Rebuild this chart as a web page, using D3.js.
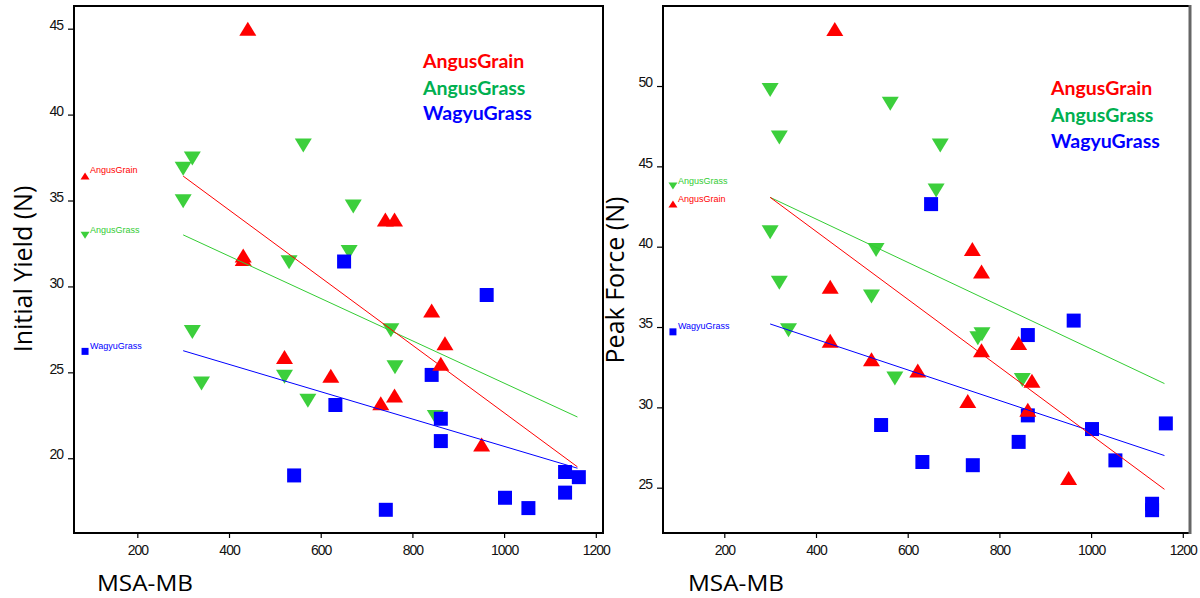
<!DOCTYPE html>
<html>
<head>
<meta charset="utf-8">
<script src="https://cdn.jsdelivr.net/npm/d3@7"></script>
<style>
    body { margin: 0; background: #fff; }
    svg { display: block; }
</style>
</head>
<body>
<div id="chart"></div>
<script>
// Tick labels
const msaTicks = [200, 400, 600, 800, 1000, 1200];
const yieldTicks = [20, 25, 30, 35, 40, 45];
const forceTicks = [25, 30, 35, 40, 45, 50];

const groups = ["AngusGrain", "AngusGrass", "WagyuGrass"];

// AngusGrain
const grainMSA = [441, 431, 431, 521, 622, 731, 741, 761, 761, 842, 871, 862, 951];
const grainYield = [45.0, 31.8, 31.6, 25.9, 24.8, 23.2, 33.9, 33.9, 23.65, 28.6, 26.7, 25.5, 20.8];
const grainForce = [53.55, 37.5, 34.15, 33.0, 32.3, 30.4, 39.85, 38.45, 33.55, 34.0, 31.65, 29.85, 25.6];

// AngusGrass
const grassMSA = [300, 300, 320, 320, 340, 531, 521, 572, 562, 671, 662, 753, 762, 850];
const grassYield = [36.85, 34.95, 37.45, 27.35, 24.35, 31.4, 24.75, 23.35, 38.2, 34.65, 32.0, 27.45, 25.3, 22.4];
const grassForce = [49.75, 40.9, 46.8, 37.75, 34.8, 39.8, 36.9, 31.8, 48.9, 46.3, 43.5, 34.3, 34.55, 31.7];

// WagyuGrass
const wagyuMSA = [651, 962, 542, 632, 742, 842, 862, 862, 1002, 1053, 1133, 1133, 1163];
const wagyuYield = [31.45, 29.5, 19.0, 23.1, 17.0, 24.85, 22.3, 21.0, 17.7, 17.1, 19.2, 18.0, 18.9];
const wagyuForce = [42.65, 35.4, 28.9, 26.6, 26.4, 27.85, 34.5, 29.5, 28.65, 26.7, 24.0, 23.6, 29.0];

// fitted lines, start and end
const fitMSA = [300, 1160];
const grainYieldFit = [36.42, 19.5];
const grassYieldFit = [33.0, 22.4];
const wagyuYieldFit = [26.26, 19.42];
const grainForceFit = [43.07, 24.9];
const grassForceFit = [43.07, 31.48];
const wagyuForceFit = [35.19, 27.0];

// little key inside the plot (grain, grass, wagyu)
const yieldKeyMSA = 86;
const yieldKeyY = [36.43, 32.98, 26.22];
const forceKeyMSA = 88;
const forceKeyY = [42.65, 43.77, 34.7];

const markColor = { AngusGrain: "#ff0000", AngusGrass: "#3ccf3c", WagyuGrass: "#0000ff" };
const keyColor = { AngusGrain: "#ff0000", AngusGrass: "#00b050", WagyuGrass: "#0000ff" };

const svg = d3.select("#chart")
    .append("svg")
    .attr("width", 1200)
    .attr("height", 598);

function markPath(group, w, h) {
    if (group === "AngusGrain") return `M0,${-h / 2}L${w / 2},${h / 2}L${-w / 2},${h / 2}Z`;
    if (group === "AngusGrass") return `M${-w / 2},${-h / 2}L${w / 2},${-h / 2}L0,${h / 2}Z`;
    return `M${-w / 2},${-w / 2}h${w}v${w}h${-w}Z`;
}

function drawPanel(p) {
    const x = d3.scaleLinear().domain(p.xDomain).range([p.left, p.right]);
    const y = d3.scaleLinear().domain(p.yDomain).range([p.bottom, p.top]);

    const g = svg.append("g");

    // axes
    const xAxis = g.append("g")
        .attr("transform", `translate(0,${p.bottom})`)
        .call(d3.axisBottom(x).tickValues(msaTicks).tickFormat(d3.format("d"))
            .tickSize(5).tickPadding(7).tickSizeOuter(0));
    const yAxis = g.append("g")
        .attr("transform", `translate(${p.left},0)`)
        .call(d3.axisLeft(y).tickValues(p.yTicks).tickSize(6).tickPadding(5).tickSizeOuter(0));
    yAxis.selectAll("text").attr("dy", "0.05em");
    [xAxis, yAxis].forEach(a => {
        a.select(".domain").remove();
        a.selectAll("line").attr("stroke", "#000").attr("stroke-width", 1.2);
        a.selectAll("text")
            .style("font-family", "'Liberation Sans', Arial, sans-serif")
            .style("font-size", "14px")
            .style("letter-spacing", "-1px")
            .attr("fill", "#111");
    });

    // markers
    p.series.forEach(s => {
        g.selectAll(null)
            .data(s.xs.map((v, i) => ({ x: v, y: s.ys[i] })))
            .enter().append("path")
            .attr("d", markPath(s.name, s.name === "WagyuGrass" ? 14 : 17, 14))
            .attr("transform", d => `translate(${x(d.x)},${y(d.y)})`)
            .attr("fill", markColor[s.name]);
    });

    // fit lines on top
    p.series.forEach(s => {
        g.append("path")
            .datum(fitMSA.map((v, i) => [v, s.fit[i]]))
            .attr("d", d3.line().x(d => x(d[0])).y(d => y(d[1])))
            .attr("fill", "none")
            .attr("stroke", markColor[s.name] === "#3ccf3c" ? "#33cc33" : markColor[s.name])
            .attr("stroke-width", 1);
    });

    // small key
    groups.forEach((name, i) => {
        const kx = x(p.keyMSA), ky = y(p.keyY[i]);
        g.append("path")
            .attr("d", markPath(name, name === "WagyuGrass" ? 7 : 9, 7))
            .attr("transform", `translate(${kx},${ky})`)
            .attr("fill", markColor[name]);
        g.append("text")
            .attr("x", kx + 5)
            .attr("y", ky - 2.5)
            .text(name)
            .style("font-family", "'Liberation Sans', Arial, sans-serif")
            .style("font-size", "9px")
            .attr("fill", name === "AngusGrass" ? "#33cc33" : markColor[name]);
    });

    // big key
    groups.forEach((name, i) => {
        g.append("text")
            .attr("x", p.keyX)
            .attr("y", p.keyBase[i])
            .text(name)
            .style("font-family", "Lato, sans-serif")
            .style("font-weight", "bold")
            .style("font-size", "19.5px")
            .attr("fill", keyColor[name]);
    });

    // frame
    g.append("rect")
        .attr("x", p.left).attr("y", p.top)
        .attr("width", p.right - p.left).attr("height", p.bottom - p.top)
        .attr("fill", "none").attr("stroke", "#000").attr("stroke-width", 2);

    // titles
    g.append("text")
        .attr("transform", `translate(${p.titleX},${p.titleY}) rotate(-90)`)
        .attr("text-anchor", "middle")
        .text(p.yTitle)
        .style("font-family", "'Open Sans', sans-serif")
        .style("font-size", "25px")
        .attr("fill", "#000");
    g.append("text")
        .attr("x", p.left + p.xTitleOffset)
        .attr("y", 591)
        .attr("textLength", 96)
        .attr("lengthAdjust", "spacingAndGlyphs")
        .text("MSA-MB")
        .style("font-family", "'Open Sans', sans-serif")
        .style("font-size", "22px")
        .attr("fill", "#000");
    return g;
}

drawPanel({
    left: 74, right: 603, top: 6, bottom: 533,
    xDomain: [61.9, 1215.7], yDomain: [15.65, 46.32],
    yTicks: yieldTicks,
    series: [
        { name: "AngusGrass", xs: grassMSA, ys: grassYield, fit: grassYieldFit },
        { name: "WagyuGrass", xs: wagyuMSA, ys: wagyuYield, fit: wagyuYieldFit },
        { name: "AngusGrain", xs: grainMSA, ys: grainYield, fit: grainYieldFit }
    ],
    keyMSA: yieldKeyMSA, keyY: yieldKeyY,
    keyX: 423, keyBase: [68, 95, 120],
    yTitle: "Initial Yield (N)", titleX: 32, titleY: 269,
    xTitleOffset: 23
});

drawPanel({
    left: 663, right: 1190, top: 6, bottom: 533,
    xDomain: [66.3, 1215.7], yDomain: [22.18, 54.98],
    yTicks: forceTicks,
    series: [
        { name: "AngusGrass", xs: grassMSA, ys: grassForce, fit: grassForceFit },
        { name: "WagyuGrass", xs: wagyuMSA, ys: wagyuForce, fit: wagyuForceFit },
        { name: "AngusGrain", xs: grainMSA, ys: grainForce, fit: grainForceFit }
    ],
    keyMSA: forceKeyMSA, keyY: forceKeyY,
    keyX: 1051, keyBase: [95, 122, 148],
    yTitle: "Peak Force (N)", titleX: 624, titleY: 280,
    xTitleOffset: 25
});

// grey edge on the right panel
svg.append("line")
    .attr("x1", 1190).attr("x2", 1190).attr("y1", 5).attr("y2", 534)
    .attr("stroke", "#666").attr("stroke-width", 3);
</script>
</body>
</html>
